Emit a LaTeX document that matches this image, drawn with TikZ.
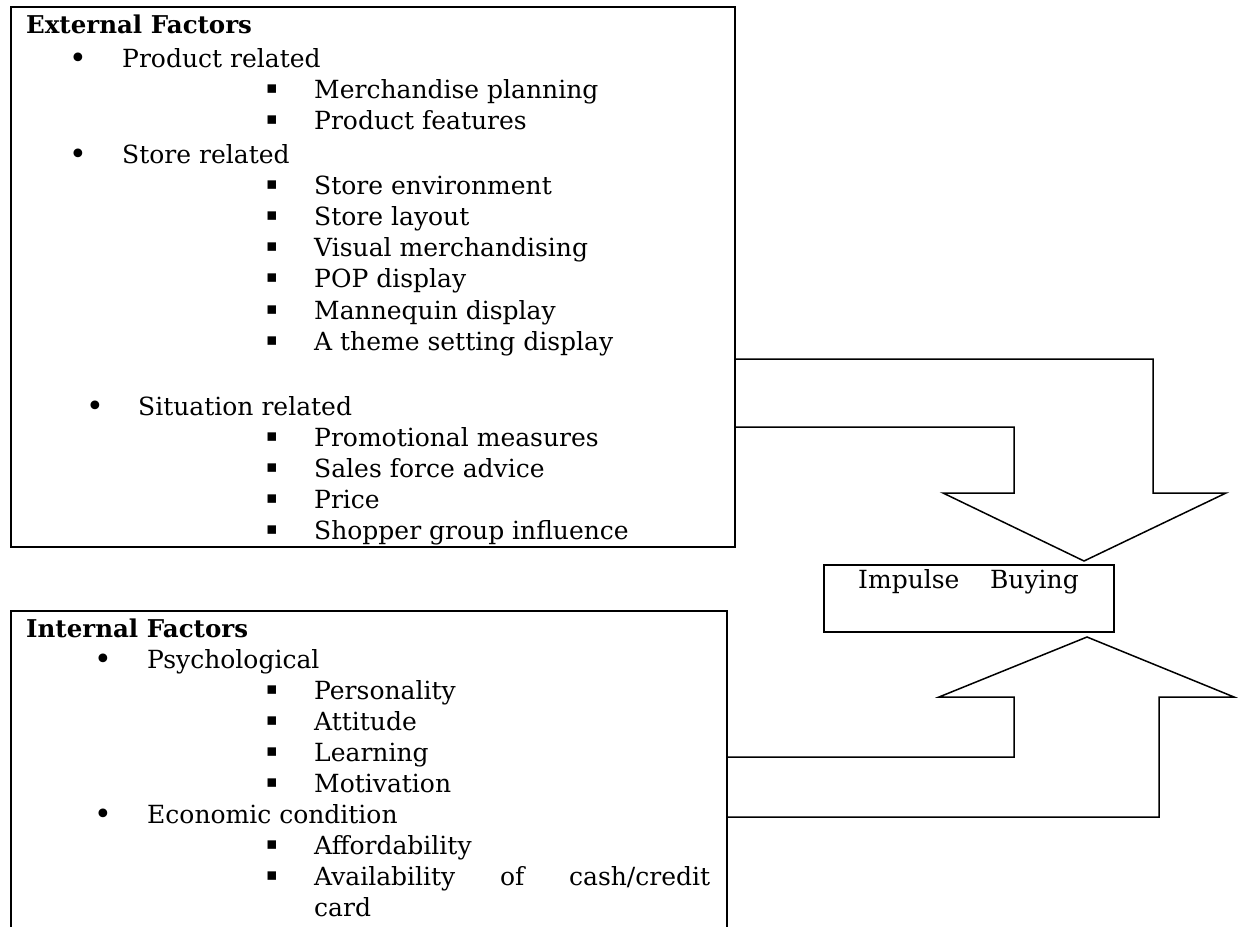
\documentclass[tikz,border=0pt]{standalone}
\usepackage{fontspec}
\setmainfont{DejaVu Serif}
\newfontfamily\symf{DejaVu Sans}
\begin{document}
\begin{tikzpicture}[x=1pt,y=1pt,
  box/.style={draw, line width=2pt, inner sep=0pt},
  blockarrow/.style={draw, line width=1.5pt, line join=miter},
  txt/.style={anchor=base west, inner sep=0pt, font=\fontsize{25}{30}\selectfont},
  hdr/.style={anchor=base west, inner sep=0pt, font=\fontsize{24.5}{30}\selectfont\bfseries},
  dot/.style={anchor=center, inner sep=0pt, font=\symf\fontsize{30}{30}\selectfont},
  sq/.style={anchor=center, inner sep=0pt, font=\symf\fontsize{17}{17}\selectfont}]
\useasboundingbox (0,0) rectangle (1241,-926);
% boxes
\node[box, minimum width=724pt, minimum height=540pt] (ext) at (373,-277) {};
\draw[line width=2pt] (11,-940) -- (11,-611) -- (727,-611) -- (727,-940);
\coordinate (int) at (369,-611);
\node[box, minimum width=290pt, minimum height=67pt] (imp) at (969,-598.5) {};
% block arrows
\draw[blockarrow] (735,-359) -- (1153,-359) -- (1153,-493) -- (1226,-493) -- (1084,-561)
  -- (943,-493) -- (1014,-493) -- (1014,-427) -- (735,-427) -- cycle;
\draw[blockarrow] (727,-757) -- (1014,-757) -- (1014,-697) -- (939,-697) -- (1087,-637)
  -- (1234,-697) -- (1159,-697) -- (1159,-817) -- (727,-817) -- cycle;
% impulse text
\node[txt] (impA) at (858,-588) {Impulse};
\node[txt, anchor=base east] (impB) at (1079,-588) {Buying};
% external factors
\node[hdr] (exth) at (26,-33) {External Factors};
\node[dot] (ed1) at (78,-61) {•};
\node[txt] (eb1) at (122,-67) {Product related};
\node[dot] (ed2) at (78,-157) {•};
\node[txt] (eb2) at (122,-163) {Store related};
\node[dot] (ed3) at (95,-409) {•};
\node[txt] (eb3) at (138,-415) {Situation related};
\foreach \t/\y [count=\i] in {Merchandise planning/98, Product features/129,
  Store environment/194, Store layout/225, Visual merchandising/256, POP display/287,
  Mannequin display/319, A theme setting display/350,
  Promotional measures/446, Sales force advice/477, Price/508, Shopper group influence/539}{
  \node[sq] (es\i) at (272,{-\y+9}) {▪};
  \node[txt] (et\i) at (314,-\y) {\t};
}
% internal factors
\node[hdr] (inth) at (26,-637) {Internal Factors};
\node[dot] (id1) at (103,-662) {•};
\node[txt] (ib1) at (147,-668) {Psychological};
\node[dot] (id2) at (103,-817) {•};
\node[txt] (ib2) at (147,-823) {Economic condition};
\foreach \t/\y [count=\i] in {Personality/699, Attitude/730, Learning/761, Motivation/792,
  Affordability/854}{
  \node[sq] (is\i) at (272,{-\y+9}) {▪};
  \node[txt] (it\i) at (314,-\y) {\t};
}
\node[sq] (is6) at (272,-876) {▪};
\node[txt] (it6) at (314,-885) {\makebox[396pt][s]{Availability of cash/credit}};
\node[txt] (it7) at (314,-916) {card};
\end{tikzpicture}
\end{document}
